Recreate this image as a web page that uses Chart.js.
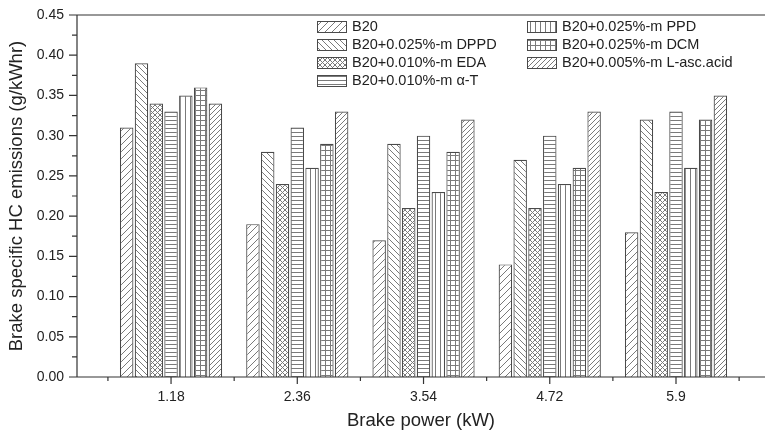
<!DOCTYPE html>
<html>
<head>
<meta charset="utf-8">
<script src="https://cdn.jsdelivr.net/npm/chart.js@4"></script>
<style>
  html, body { margin: 0; background: #fff; }
  #wrap { width: 765px; height: 438px; }
</style>
</head>
<body>
<div id="wrap"><canvas id="chart"></canvas></div>
<script>
const powerLabels = ['1.18', '2.36', '3.54', '4.72', '5.9'];
const powerPositions = [1, 2, 3, 4, 5];
const yTickValues = [0, 0.05, 0.10, 0.15, 0.20, 0.25, 0.30, 0.35, 0.40, 0.45];

const seriesNames = [
  'B20',
  'B20+0.025%-m DPPD',
  'B20+0.010%-m EDA',
  'B20+0.010%-m \u03b1-T',
  'B20+0.025%-m PPD',
  'B20+0.025%-m DCM',
  'B20+0.005%-m L-asc.acid',
];
const b20 = [0.31, 0.19, 0.17, 0.14, 0.18];
const dppd = [0.39, 0.28, 0.29, 0.27, 0.32];
const eda = [0.34, 0.24, 0.21, 0.21, 0.23];
const alphaT = [0.33, 0.31, 0.30, 0.30, 0.33];
const ppd = [0.35, 0.26, 0.23, 0.24, 0.26];
const dcm = [0.36, 0.29, 0.28, 0.26, 0.32];
const lAsc = [0.34, 0.33, 0.32, 0.33, 0.35];
const seriesValues = [b20, dppd, eda, alphaT, ppd, dcm, lAsc];

const HATCH = '#7a7a7a';
const EDGE = '#4a4a4a';
const TEXT = '#222';
const FONT = 'Arial, "Liberation Sans", Helvetica, sans-serif';

function makePattern(kind, size) {
  const c = document.createElement('canvas');
  c.width = size;
  c.height = size;
  const g = c.getContext('2d');
  g.fillStyle = '#fff';
  g.fillRect(0, 0, size, size);
  g.strokeStyle = HATCH;
  g.lineWidth = 1;
  g.beginPath();
  if (kind === 'slash' || kind === 'cross') {
    g.moveTo(-1, size + 1); g.lineTo(size + 1, -1);
    g.moveTo(-1, 1); g.lineTo(1, -1);
    g.moveTo(size - 1, size + 1); g.lineTo(size + 1, size - 1);
  }
  if (kind === 'back' || kind === 'cross') {
    g.moveTo(-1, -1); g.lineTo(size + 1, size + 1);
    g.moveTo(size - 1, -1); g.lineTo(size + 1, 1);
    g.moveTo(-1, size - 1); g.lineTo(1, size + 1);
  }
  if (kind === 'horiz' || kind === 'grid') {
    g.moveTo(0, 0.5); g.lineTo(size, 0.5);
  }
  if (kind === 'vert' || kind === 'grid') {
    g.moveTo(0.5, 0); g.lineTo(0.5, size);
  }
  g.stroke();
  return g.createPattern(c, 'repeat');
}

const patterns = [
  makePattern('slash', 7),
  makePattern('back', 6),
  makePattern('cross', 5),
  makePattern('horiz', 4),
  makePattern('vert', 5),
  makePattern('grid', 5),
  makePattern('slash', 5),
];

const datasets = seriesNames.map((name, i) => ({
  label: name,
  data: powerPositions.map((x, j) => ({ x, y: seriesValues[i][j] })),
  backgroundColor: patterns[i],
  borderColor: EDGE,
  borderWidth: 1.2,
  categoryPercentage: 0.82,
  barPercentage: 0.91,
}));

// axis lines, major/minor ticks and the top frame line
const frameAndTicks = {
  id: 'frameAndTicks',
  afterDatasetsDraw(chart) {
    const { ctx, chartArea, scales } = chart;
    const xs = scales.x;
    const ys = scales.y;
    ctx.save();
    ctx.strokeStyle = '#333';
    ctx.lineWidth = 1.2;
    ctx.beginPath();
    ctx.moveTo(chartArea.left, chartArea.top);
    ctx.lineTo(chartArea.left, chartArea.bottom);
    ctx.lineTo(chartArea.right, chartArea.bottom);
    ctx.moveTo(chartArea.left, chartArea.top);
    ctx.lineTo(chartArea.right, chartArea.top);

    powerPositions.forEach((v) => {
      const px = xs.getPixelForValue(v);
      ctx.moveTo(px, chartArea.bottom);
      ctx.lineTo(px, chartArea.bottom + 7);
    });
    for (let v = 0.5; v < xs.max; v += 1) {
      const px = xs.getPixelForValue(v);
      ctx.moveTo(px, chartArea.bottom);
      ctx.lineTo(px, chartArea.bottom + 4);
    }
    yTickValues.forEach((v, i) => {
      const py = ys.getPixelForValue(v);
      ctx.moveTo(chartArea.left - 8, py);
      ctx.lineTo(chartArea.left, py);
      if (i > 0) {
        const pm = ys.getPixelForValue(v - 0.025);
        ctx.moveTo(chartArea.left - 5, pm);
        ctx.lineTo(chartArea.left, pm);
      }
    });
    ctx.stroke();
    ctx.restore();
  },
};

// two-column legend like the original figure
const columnLegend = {
  id: 'columnLegend',
  afterDraw(chart) {
    const { ctx } = chart;
    const cols = [317, 527];
    ctx.save();
    ctx.font = `14.5px ${FONT}`;
    ctx.textBaseline = 'middle';
    ctx.fillStyle = TEXT;
    seriesNames.forEach((name, i) => {
      const col = i < 4 ? 0 : 1;
      const row = i < 4 ? i : i - 4;
      const x = cols[col];
      const y = 26.5 + row * 18;
      ctx.fillStyle = patterns[i];
      ctx.fillRect(x, y - 5.5, 29, 11);
      ctx.strokeStyle = EDGE;
      ctx.lineWidth = 1;
      ctx.strokeRect(x + 0.5, y - 5, 29, 11);
      ctx.fillStyle = TEXT;
      ctx.fillText(name, x + 35, y + 0.5);
    });
    ctx.restore();
  },
};

new Chart(document.getElementById('chart'), {
  type: 'bar',
  data: { datasets },
  plugins: [frameAndTicks, columnLegend],
  options: {
    responsive: true,
    maintainAspectRatio: false,
    animation: false,
    layout: { padding: { top: 15, right: 0, left: 0, bottom: 0 } },
    plugins: {
      legend: { display: false },
      tooltip: { enabled: false },
    },
    scales: {
      x: {
        type: 'linear',
        offset: false,
        min: 0.255,
        max: 5.705,
        afterBuildTicks(scale) {
          scale.ticks = powerPositions.map((v) => ({ value: v }));
        },
        afterFit(scale) { scale.height = 61; },
        grid: { display: false, offset: false },
        border: { display: false },
        ticks: {
          autoSkip: false,
          maxRotation: 0,
          padding: 4,
          color: TEXT,
          font: { family: FONT, size: 14 },
          callback(value) {
            const idx = powerPositions.indexOf(value);
            return idx >= 0 ? powerLabels[idx] : '';
          },
        },
        title: {
          display: true,
          text: 'Brake power (kW)',
          color: TEXT,
          font: { family: FONT, size: 18.5 },
          padding: { top: 0, bottom: 6 },
        },
      },
      y: {
        min: 0,
        max: 0.45,
        afterBuildTicks(scale) {
          scale.ticks = yTickValues.map((v) => ({ value: v }));
        },
        afterFit(scale) { scale.width = 77; },
        grid: { display: false },
        border: { display: false },
        ticks: {
          padding: 5,
          color: TEXT,
          font: { family: FONT, size: 14 },
          callback(value) { return value.toFixed(2); },
        },
        title: {
          display: true,
          text: 'Brake specific HC emissions (g/kWhr)',
          color: TEXT,
          font: { family: FONT, size: 18.5 },
          padding: { top: 6, bottom: 0 },
        },
      },
    },
  },
});
</script>
</body>
</html>
